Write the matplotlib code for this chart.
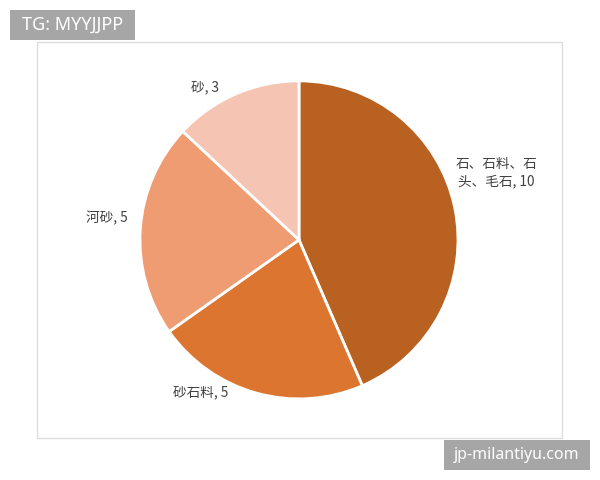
import matplotlib
matplotlib.use("Agg")
import matplotlib.pyplot as plt
from matplotlib.patches import Rectangle

plt.rcParams["font.family"] = ["Noto Sans CJK SC", "DejaVu Sans"]

# data
categories = ["石、石料、石\n头、毛石", "砂石料", "河砂", "砂"]
values = [10, 5, 5, 3]
colors = ["#B86121", "#DC7530", "#EF9C73", "#F5C4B2"]

# label placement (in pie units, relative to center)
label_pos = [(1.24, 0.42), (-0.62, -0.96), (-1.21, 0.14), (-0.59, 0.96)]


def px_box(fig, x0, y0, x1, y1, **kw):
    # rectangle given in pixel coords measured from top-left
    r = Rectangle((x0 / 600, 1 - y1 / 480), (x1 - x0) / 600, (y1 - y0) / 480,
                  transform=fig.transFigure, **kw)
    fig.patches.append(r)


def main():
    fig = plt.figure(figsize=(6, 4.8), dpi=100)

    # chart frame
    px_box(fig, 37, 42, 562, 438, fill=False, edgecolor="#DDDDDD", linewidth=1)

    ax = fig.add_axes([0.2333, 0.169, 0.53, 0.6625])
    ax.pie(values, colors=colors, startangle=90, counterclock=False,
           wedgeprops=dict(edgecolor="white", linewidth=2))
    ax.set_aspect("equal")
    ax.set_xlim(-1, 1)
    ax.set_ylim(-1, 1)
    ax.axis("off")

    for cat, val, (x, y) in zip(categories, values, label_pos):
        ax.text(x, y, f"{cat}, {val}", ha="center", va="center",
                fontsize=9.8, color="#404040", linespacing=1.3,
                clip_on=False)

    # watermarks
    px_box(fig, 10, 10, 135, 40, facecolor="#A6A6A6", edgecolor="none")
    fig.text(72.5 / 600, 1 - 25 / 480, "TG: MYYJJPP", ha="center", va="center",
             fontsize=13, color="white", family=["Noto Sans", "DejaVu Sans"])
    px_box(fig, 444, 440, 590, 470, facecolor="#A6A6A6", edgecolor="none")
    fig.text(517 / 600, 1 - 455 / 480, "jp-milantiyu.com", ha="center", va="center",
             fontsize=11.5, color="white", family=["Noto Sans", "DejaVu Sans"])

    fig.savefig("out.png", dpi=100)


if __name__ == "__main__":
    main()
